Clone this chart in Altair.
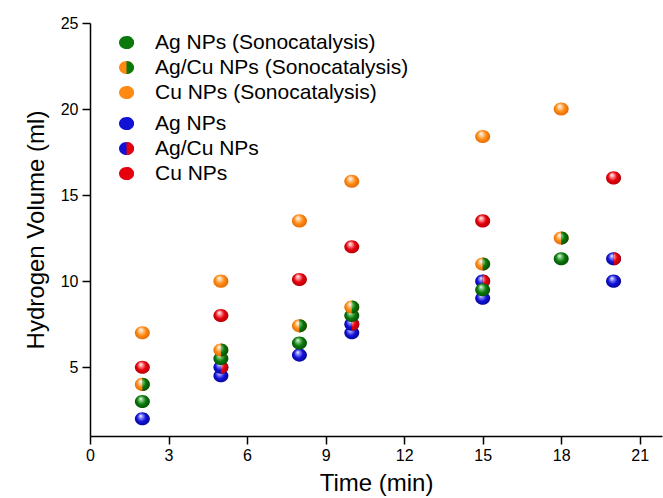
import altair as alt
import pandas as pd

# ---------------- data ----------------
series_names = [
    "Ag NPs (Sonocatalysis)",
    "Ag/Cu NPs (Sonocatalysis)",
    "Cu NPs (Sonocatalysis)",
    "Ag NPs",
    "Ag/Cu NPs",
    "Cu NPs",
]

ag_sono_time = [2, 5, 8, 10, 15, 18]
ag_sono_vol = [3.0, 5.5, 6.4, 8.0, 9.5, 11.3]

agcu_sono_time = [2, 5, 8, 10, 15, 18]
agcu_sono_vol = [4.0, 6.0, 7.4, 8.5, 11.0, 12.5]

cu_sono_time = [2, 5, 8, 10, 15, 18]
cu_sono_vol = [7.0, 10.0, 13.5, 15.8, 18.4, 20.0]

ag_time = [2, 5, 8, 10, 15, 20]
ag_vol = [2.0, 4.5, 5.7, 7.0, 9.0, 10.0]

agcu_time = [5, 10, 15, 20]
agcu_vol = [5.0, 7.5, 10.0, 11.3]

cu_time = [2, 5, 8, 10, 15, 20]
cu_vol = [5.0, 8.0, 10.1, 12.0, 13.5, 16.0]

x_ticks = [0, 3, 6, 9, 12, 15, 18, 21]
y_ticks = [5, 10, 15, 20, 25]

# ---------------- styling ----------------
GREEN = ("#0b780b", "#7cc87c", "#003f00")
ORANGE = ("#ff8a12", "#ffd3a4", "#d85c00")
BLUE = ("#1212d6", "#8c8cff", "#00007e")
RED = ("#e6000e", "#ff9a9a", "#9c0000")

left_col = {
    series_names[0]: GREEN, series_names[1]: ORANGE, series_names[2]: ORANGE,
    series_names[3]: BLUE, series_names[4]: BLUE, series_names[5]: RED,
}
right_col = {
    series_names[0]: GREEN, series_names[1]: GREEN, series_names[2]: ORANGE,
    series_names[3]: BLUE, series_names[4]: RED, series_names[5]: RED,
}

series_data = {
    series_names[0]: (ag_sono_time, ag_sono_vol),
    series_names[1]: (agcu_sono_time, agcu_sono_vol),
    series_names[2]: (cu_sono_time, cu_sono_vol),
    series_names[3]: (ag_time, ag_vol),
    series_names[4]: (agcu_time, agcu_vol),
    series_names[5]: (cu_time, cu_vol),
}

rows = []
for i, name in enumerate(series_names):
    t, v = series_data[name]
    for a, b in zip(t, v):
        rows.append({"series": name, "time": a, "volume": b,
                     "group": "sono" if i < 3 else "plain"})
df = pd.DataFrame(rows)

ELL = "M-1,0 A1,0.87 0 1 1 1,0 A1,0.87 0 1 1 -1,0 Z"
RHALF = "M0,-0.87 A1,0.87 0 0 1 0,0.87 Z"
SIZE = 225
FONT = "Liberation Sans"


def grad(col, full=True):
    base, light, dark = col
    if full:
        x1, y1, x2, y2, r2 = 0.38, 0.30, 0.5, 0.5, 0.6
    else:
        x1, y1, x2, y2, r2 = 0.075, 0.27, 0.213, 0.5, 0.69
    return alt.RadialGradient(
        gradient="radial",
        stops=[
            alt.GradientStop(offset=0.0, color="#ffffff"),
            alt.GradientStop(offset=0.2, color=light),
            alt.GradientStop(offset=0.5, color=base),
            alt.GradientStop(offset=1.0, color=dark),
        ],
        x1=x1, y1=y1, r1=0, x2=x2, y2=y2, r2=r2,
    )


xscale = alt.Scale(domain=[0, 21.85], nice=False, zero=False)
yscale = alt.Scale(domain=[1, 25], nice=False, zero=False)

xaxis = alt.Axis(values=x_ticks, title="Time (min)", titleFontSize=24,
                 titleFontWeight="normal", labelFontSize=16, tickSize=8,
                 tickWidth=1.5, domainWidth=1.5, tickColor="black",
                 domainColor="black", labelColor="black", titleColor="black",
                 grid=False, labelPadding=3, titlePadding=8, labelFlush=False,
                 labelFont=FONT, titleFont=FONT)
yaxis = alt.Axis(values=y_ticks, title="Hydrogen Volume (ml)", titleFontSize=24,
                 titleFontWeight="normal", labelFontSize=16, tickSize=8,
                 tickWidth=1.5, domainWidth=1.5, tickColor="black",
                 domainColor="black", labelColor="black", titleColor="black",
                 grid=False, labelPadding=4, titlePadding=12, labelFont=FONT,
                 titleFont=FONT)

X = alt.X("time:Q", scale=xscale, axis=xaxis)
Y = alt.Y("volume:Q", scale=yscale, axis=yaxis)

layers = []

# legend-only layers (no marks drawn)
for gi, (names, ly) in enumerate([(series_names[:3], 9), (series_names[3:], 90)]):
    for part in ("left", "right"):
        cols = left_col if part == "left" else right_col
        leg = alt.Legend(
            title=None, orient="none", legendX=26, legendY=ly,
            symbolType=ELL if part == "left" else RHALF, symbolSize=SIZE,
            symbolStrokeWidth=0, symbolOpacity=1, labelFontSize=21,
            labelFont=FONT, labelColor="black" if part == "left" else "transparent",
            labelOffset=18, rowPadding=3, padding=0, symbolOffset=0,
            labelLimit=400,
        )
        layers.append(
            alt.Chart(df)
            .transform_filter("datum.time < 0")
            .mark_point(filled=True, shape=ELL, size=SIZE)
            .encode(
                x=X, y=Y,
                fill=alt.Fill("series:N", scale=alt.Scale(
                    domain=list(names), range=[cols[n][0] for n in names]),
                    legend=leg),
            )
        )

# data layers, drawn in the reference's stacking order
draw_order = series_names[3:] + series_names[:3]
for name in draw_order:
    sub = df[df["series"] == name]
    layers.append(
        alt.Chart(sub).mark_point(filled=True, shape=ELL, size=SIZE,
                                  fill=grad(left_col[name]), strokeWidth=0,
                                  opacity=1)
        .encode(x=X, y=Y)
    )
    if right_col[name] != left_col[name]:
        layers.append(
            alt.Chart(sub).mark_point(filled=True, shape=RHALF, size=SIZE,
                                      fill=grad(right_col[name], full=False),
                                      strokeWidth=0, opacity=1)
            .encode(x=X, y=Y)
        )

chart = (
    alt.layer(*layers)
    .resolve_scale(fill="independent")
    .resolve_legend(fill="independent")
    .properties(width=572, height=413, autosize="none",
                padding={"left": 90, "top": 23, "right": 1, "bottom": 62},
                background="white")
    .configure_view(stroke=None)
)

chart.save("out.html", embed_options={"renderer": "svg", "actions": False})
